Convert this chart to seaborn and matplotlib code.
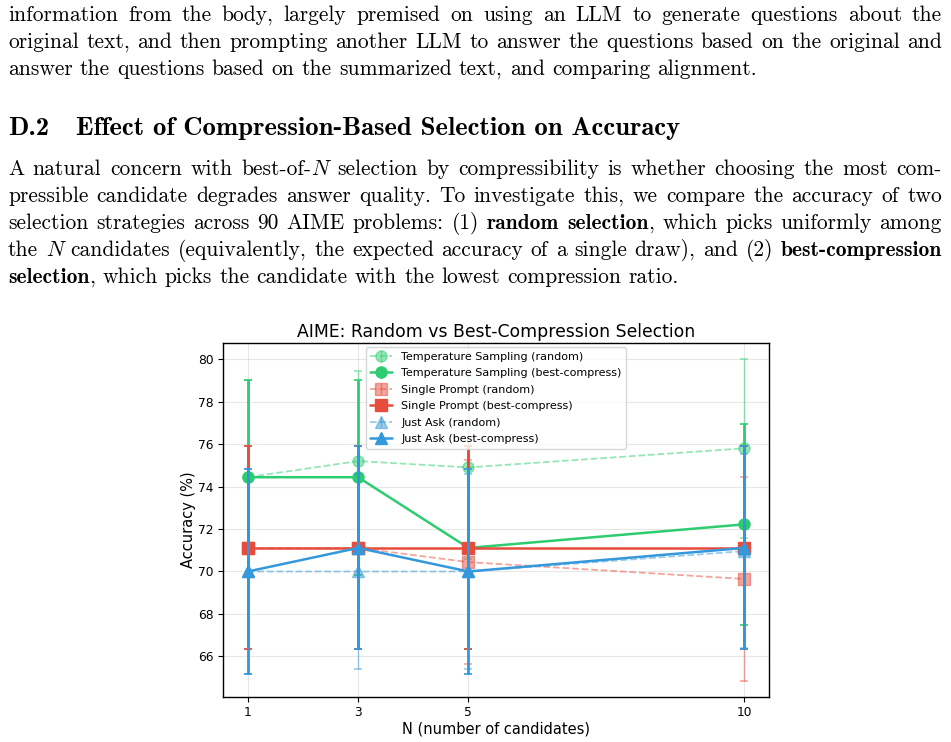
import matplotlib
matplotlib.use("Agg")
import matplotlib.pyplot as plt
import seaborn as sns
import numpy as np

# ---------------- data ----------------
N_VALUES = [1, 3, 5, 10]
N_TICKS = [1, 3, 5, 10]

ts_random = [74.44, 75.2, 74.9, 75.8]
ts_random_err = [4.6, 4.25, 4.3, 4.2]
ts_best = [74.44, 74.44, 71.11, 72.22]
ts_best_err = [4.6, 4.6, 4.78, 4.72]

sp_random = [71.11, 71.11, 70.44, 69.65]
sp_random_err = [4.78, 4.78, 4.8, 4.8]
sp_best = [71.11, 71.11, 71.11, 71.11]
sp_best_err = [4.78, 4.78, 4.78, 4.78]

ja_random = [70.0, 70.0, 70.0, 70.96]
ja_random_err = [4.83, 4.6, 4.6, 4.55]
ja_best = [70.0, 71.11, 70.0, 71.11]
ja_best_err = [4.83, 4.78, 4.83, 4.78]

labels = ["Temperature Sampling (random)", "Temperature Sampling (best-compress)",
          "Single Prompt (random)", "Single Prompt (best-compress)",
          "Just Ask (random)", "Just Ask (best-compress)"]

TITLE = "AIME: Random vs Best-Compression Selection"
XLABEL = "N (number of candidates)"
YLABEL = "Accuracy (%)"

PARA1 = [
    "information from the body, largely premised on using an LLM to generate questions about the",
    "original text, and then prompting another LLM to answer the questions based on the original and",
    "answer the questions based on the summarized text, and comparing alignment.",
]
HEAD_NUM = "D.2"
HEAD_TXT = "Effect of Compression-Based Selection on Accuracy"
PARA2 = [
    "A natural concern with best-of-|i:N| selection by compressibility is whether choosing the most com-",
    "pressible candidate degrades answer quality. To investigate this, we compare the accuracy of two",
    "selection strategies across 90 AIME problems: (1) |b:random selection|, which picks uniformly among",
    "the |i:N| candidates (equivalently, the expected accuracy of a single draw), and (2) |b:best-compression",
    "b:selection|, which picks the candidate with the lowest compression ratio.",
]

# ---------------- figure ----------------
sns.set_style("ticks")
plt.rcParams["font.family"] = ["DejaVu Sans"]
plt.rcParams["text.color"] = "black"
plt.rcParams["axes.labelcolor"] = "black"

W, H = 951, 742
fig = plt.figure(figsize=(W / 100, H / 100), dpi=100)
fig.patch.set_facecolor("white")
renderer = fig.canvas.get_renderer()


def fx(x):
    return x / W


def fy(y):
    return 1 - y / H


FONTS = {"r": "cmr10", "b": "cmb10", "i": "cmmi10"}


def parse(line):
    words = [[]]
    for seg in line.split("|"):
        if not seg:
            continue
        if len(seg) > 1 and seg[1] == ":" and seg[0] in "bi":
            style, txt = seg[0], seg[2:]
        else:
            style, txt = "r", seg
        parts = txt.split(" ")
        for k, p in enumerate(parts):
            if k > 0:
                words.append([])
            if p:
                words[-1].append((p, style))
    return [w for w in words if w]


def measure(txt, fam, fs):
    t = fig.text(0, 0, txt, fontfamily=fam, fontsize=fs)
    w = t.get_window_extent(renderer).width
    t.remove()
    return w


def line_width(line, fs):
    words = parse(line)
    tot = sum(measure(p, FONTS[s], fs) for w in words for p, s in w)
    return tot + (len(words) - 1) * fs * 100 / 72 * 0.333


def draw_line(line, y, fs, justify, x0=8, x1=942):
    words = parse(line)
    items = []
    for w in words:
        segs = []
        ww = 0
        for p, s in w:
            t = fig.text(0, 0, p, fontfamily=FONTS[s], fontsize=fs,
                         va="baseline", ha="left", color="black")
            wd = t.get_window_extent(renderer).width
            segs.append((t, wd))
            ww += wd
        items.append((segs, ww))
    total = sum(i[1] for i in items)
    if justify and len(items) > 1:
        gap = (x1 - x0 - total) / (len(items) - 1)
    else:
        gap = fs * 100 / 72 * 0.333
    x = x0
    for segs, ww in items:
        xx = x
        for t, wd in segs:
            t.set_position((fx(xx), fy(y)))
            xx += wd
        x += ww + gap


# body font size fitted to the ragged last line of paragraph 1
fs_body = 16.0 * 744 / line_width(PARA1[2], 16.0)
fs_head = 19.0 * 605 / measure(HEAD_TXT, "cmb10", 19.0)

for i, ln in enumerate(PARA1):
    draw_line(ln, 21 + 27 * i, fs_body, justify=(i < len(PARA1) - 1))

fig.text(fx(8), fy(135), HEAD_NUM, fontfamily="cmb10", fontsize=fs_head,
         va="baseline", color="black")
fig.text(fx(76), fy(135), HEAD_TXT, fontfamily="cmb10", fontsize=fs_head,
         va="baseline", color="black")

for i, ln in enumerate(PARA2):
    draw_line(ln, 175 + 27 * i, fs_body, justify=(i < len(PARA2) - 1))

# ---------------- chart ----------------
ax = fig.add_axes([fx(223), fy(697), fx(769) - fx(223), fy(343) - fy(697)])

GREEN, RED, BLUE = "#2ecc71", "#e74c3c", "#3498db"
series = [
    (labels[0], ts_random, ts_random_err, GREEN, True, "o"),
    (labels[1], ts_best, ts_best_err, GREEN, False, "o"),
    (labels[2], sp_random, sp_random_err, RED, True, "s"),
    (labels[3], sp_best, sp_best_err, RED, False, "s"),
    (labels[4], ja_random, ja_random_err, BLUE, True, "^"),
    (labels[5], ja_best, ja_best_err, BLUE, False, "^"),
]

handles = []
for lab, vals, errs, col, rnd, mk in series:
    alpha = 0.5 if rnd else 1.0
    lw = 1.3 if rnd else 1.8
    elw = 1.0 if rnd else 2.0
    ls = "--" if rnd else "-"
    ax.errorbar(N_VALUES, vals, yerr=errs, fmt="none", ecolor=col,
                elinewidth=elw, capsize=3.2, capthick=1.2, alpha=alpha)
    sns.lineplot(x=N_VALUES, y=vals, ax=ax, color=col, marker=mk,
                 linestyle=ls, linewidth=lw, markersize=8, alpha=alpha,
                 markeredgecolor=col, markeredgewidth=1, legend=False)
    h = ax.errorbar([], [], yerr=[], color=col, marker=mk, linestyle=ls,
                    linewidth=lw, markersize=8, alpha=alpha, elinewidth=elw,
                    capsize=3.2, capthick=1.2, label=lab)
    handles.append(h)

ax.set_xticks(N_TICKS)
ax.set_xticklabels([str(n) for n in N_TICKS])
ax.set_xlim(0.55, 10.45)
ax.set_ylim(64.09, 80.76)
ax.grid(True, color="#b0b0b0", alpha=0.3, linewidth=0.8)
ax.set_axisbelow(True)
for sp in ax.spines.values():
    sp.set_color("black")
    sp.set_linewidth(1.0)
ax.tick_params(axis="both", labelsize=8.8, length=3.5, width=0.8, color="black",
               labelcolor="black", pad=3)
ax.set_title(TITLE, fontsize=12.4, pad=4, color="black")
ax.set_xlabel(XLABEL, fontsize=10.5, labelpad=1.5, color="black")
ax.set_ylabel(YLABEL, fontsize=10.5, labelpad=1.5, color="black")
ax.legend(handles=handles, labels=labels, loc="upper center", fontsize=8.0,
          frameon=True, framealpha=0.8, borderpad=0.4, labelspacing=0.58,
          handlelength=2.0, borderaxespad=0.4)

fig.savefig("out.png", dpi=100, facecolor="white")
